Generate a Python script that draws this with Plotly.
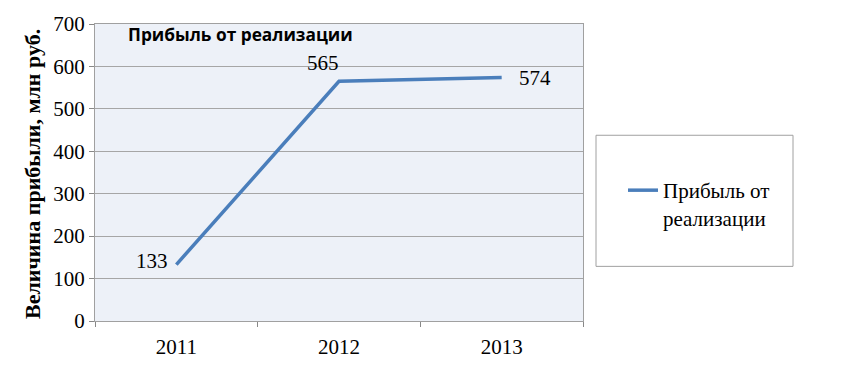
import plotly.graph_objects as go

years = ["2011", "2012", "2013"]
profit = [133, 565, 574]
series_name = "Прибыль от<br>реализации"
chart_title = "Прибыль от реализации"
y_title = "Величина прибыли, млн руб."

L, R, T, B = 95, 583, 22, 321
W, H = 852, 375
pw, ph = R - L, B - T
SERIF = "Liberation Serif"
FS = 21

fig = go.Figure()
fig.add_trace(go.Scatter(
    x=years, y=profit, mode="lines", name=series_name,
    line=dict(color="#4a7ebb", width=3.5),
))

# data labels placed relative to the data points (category index positions)
label_cfg = [
    dict(xanchor="right", yanchor="middle", xshift=-6, yshift=4),
    dict(xanchor="center", yanchor="middle", xshift=-16, yshift=18),
    dict(xanchor="left", yanchor="middle", xshift=15, yshift=-1),
]
annotations = []
for i, (v, cfg) in enumerate(zip(profit, label_cfg)):
    annotations.append(dict(x=i, y=v, xref="x", yref="y", text=str(v), showarrow=False,
                            font=dict(family=SERIF, size=FS, color="#000"), **cfg))

annotations += [
    dict(text="<b>" + chart_title + "</b>", xref="paper", yref="paper",
         x=(126 - L) / pw, y=(B - 33) / ph, xanchor="left", yanchor="middle",
         showarrow=False, font=dict(family="Open Sans", size=17.3, color="#000")),
    dict(text="<b>" + y_title + "</b>", xref="paper", yref="paper",
         x=(33 - L) / pw, y=(B - 173) / ph, xanchor="center", yanchor="middle",
         textangle=-90, showarrow=False,
         font=dict(family=SERIF, size=22, color="#000")),
]

fig.update_layout(
    width=W, height=H,
    margin=dict(l=L, r=W - R, t=T, b=H - B),
    paper_bgcolor="white", plot_bgcolor="#edf1f8",
    showlegend=True,
    legend=dict(x=(623 - L) / pw, y=(B - 169) / ph, xanchor="left", yanchor="top",
                valign="top",
                bgcolor="rgba(0,0,0,0)", borderwidth=0,
                font=dict(family=SERIF, size=FS, color="#000")),
    xaxis=dict(type="category", tickson="boundaries", ticks="outside", ticklen=5,
               tickcolor="#888", showline=True, linecolor="#a0a0a0", mirror=True,
               showgrid=False, tickfont=dict(family=SERIF, size=FS, color="#000"),
               ticklabelstandoff=7, range=[-0.5, 2.5]),
    yaxis=dict(range=[0, 700], dtick=100, ticks="outside", ticklen=5, tickcolor="#888",
               showline=True, linecolor="#a0a0a0", mirror=True,
               gridcolor="#a6a6a6", gridwidth=1,
               tickfont=dict(family=SERIF, size=FS, color="#000")),
    shapes=[dict(type="rect", xref="paper", yref="paper",
                 x0=(596 - L) / pw, x1=(793 - L) / pw,
                 y0=(B - 266) / ph, y1=(B - 134) / ph,
                 line=dict(color="#a0a0a0", width=1), fillcolor="white", layer="below")],
    annotations=annotations,
)

fig.write_html("out.html")
